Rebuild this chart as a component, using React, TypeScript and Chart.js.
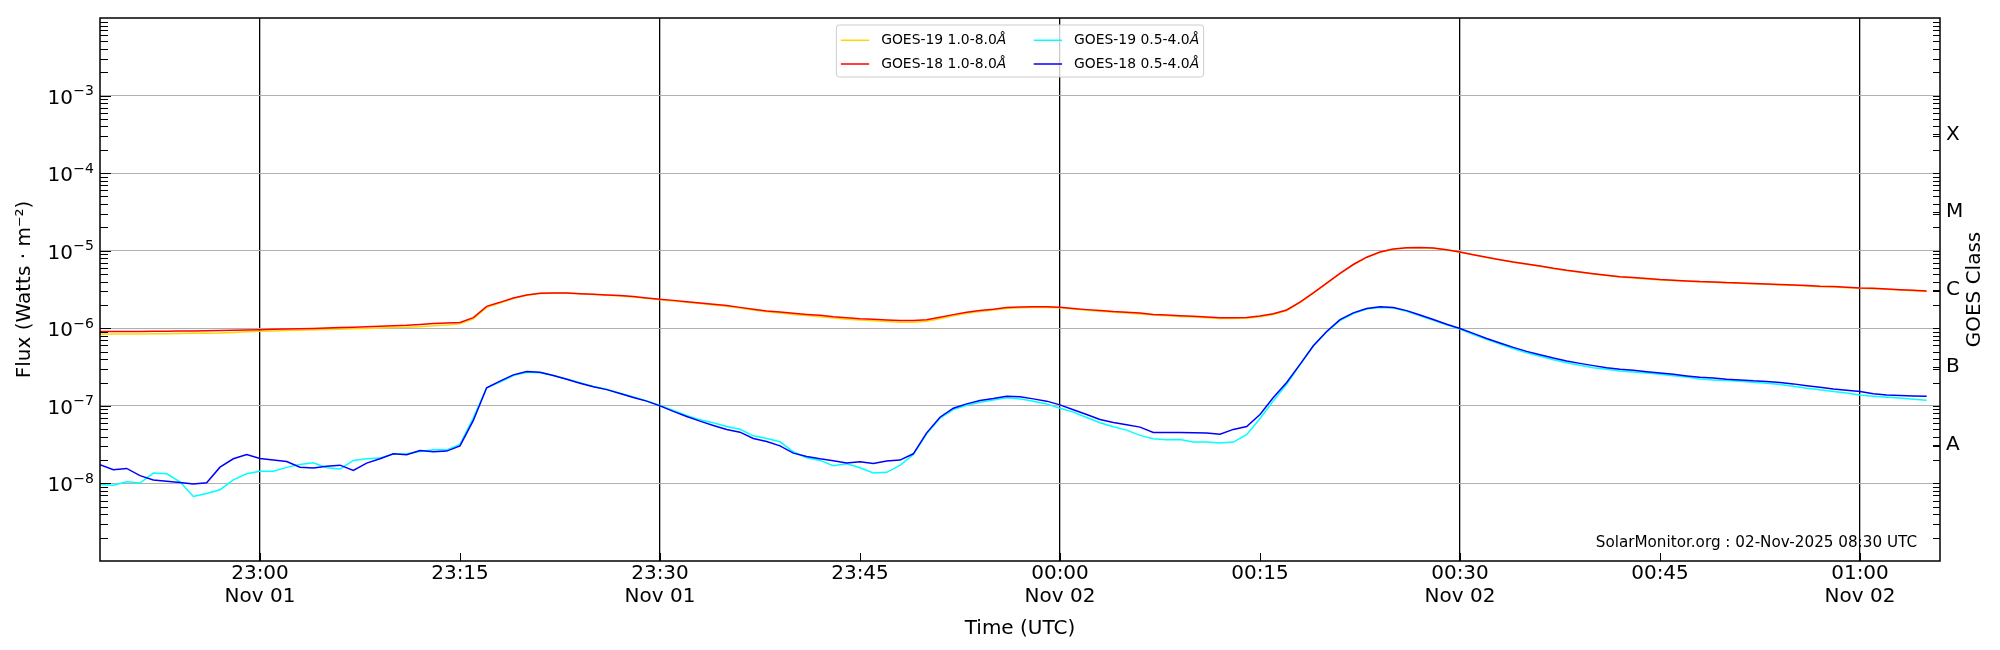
import React, { useEffect, useRef } from 'react';
import { Chart, registerables } from 'chart.js';

Chart.register(...registerables);

// ---- data (1-minute cadence, first sample at 22:48 UTC, Nov 01) ----
const FIRST_SAMPLE = '22:48';
const X_MIN = 0; // minutes since 22:48
const X_MAX = 138; // 01:06

const tickMinutes = [12, 27, 42, 57, 72, 87, 102, 117, 132];
const tickLabels: string[][] = [
  ['23:00', 'Nov 01'],
  ['23:15'],
  ['23:30', 'Nov 01'],
  ['23:45'],
  ['00:00', 'Nov 02'],
  ['00:15'],
  ['00:30', 'Nov 02'],
  ['00:45'],
  ['01:00', 'Nov 02'],
];

const fluxDecades = [-8, -7, -6, -5, -4, -3];
const goesClasses = ['A', 'B', 'C', 'M', 'X'];
const goesClassExponents = [-7.5, -6.5, -5.5, -4.5, -3.5];

const seriesLabels = ['GOES-19 1.0-8.0Å', 'GOES-18 1.0-8.0Å', 'GOES-19 0.5-4.0Å', 'GOES-18 0.5-4.0Å'];
const seriesColors = ['#ffd700', '#ff0000', '#00ffff', '#0000ff'];

const goes19Long = [
  8.4e-7, 8.42e-7, 8.44e-7, 8.46e-7, 8.5e-7, 8.53e-7, 8.56e-7, 8.6e-7, 8.63e-7, 8.67e-7,
  8.8e-7, 9.0e-7, 9.15e-7, 9.25e-7, 9.35e-7, 9.45e-7, 9.55e-7, 9.65e-7, 9.75e-7, 9.85e-7,
  9.95e-7, 1.01e-6, 1.02e-6, 1.035e-6, 1.05e-6, 1.08e-6, 1.1e-6, 1.14e-6, 1.32e-6, 1.86e-6,
  2.12e-6, 2.42e-6, 2.66e-6, 2.8e-6, 2.84e-6, 2.84e-6, 2.78e-6, 2.72e-6, 2.67e-6, 2.61e-6,
  2.53e-6, 2.43e-6, 2.33e-6, 2.25e-6, 2.16e-6, 2.08e-6, 2.0e-6, 1.92e-6, 1.82e-6, 1.72e-6,
  1.63e-6, 1.57e-6, 1.51e-6, 1.46e-6, 1.41e-6, 1.36e-6, 1.31e-6, 1.28e-6, 1.25e-6, 1.22e-6,
  1.2e-6, 1.2e-6, 1.23e-6, 1.33e-6, 1.45e-6, 1.56e-6, 1.64e-6, 1.72e-6, 1.8e-6, 1.84e-6,
  1.86e-6, 1.86e-6, 1.84e-6, 1.77e-6, 1.71e-6, 1.66e-6, 1.61e-6, 1.57e-6, 1.53e-6, 1.48e-6,
  1.45e-6, 1.42e-6, 1.4e-6, 1.37e-6, 1.34e-6, 1.34e-6, 1.35e-6, 1.41e-6, 1.51e-6, 1.69e-6,
  2.15e-6, 2.84e-6, 3.79e-6, 5.05e-6, 6.6e-6, 8.2e-6, 9.55e-6, 1.045e-5, 1.085e-5, 1.095e-5,
  1.075e-5, 1.025e-5, 9.58e-6, 8.84e-6, 8.17e-6, 7.62e-6, 7.11e-6, 6.7e-6, 6.31e-6, 5.89e-6,
  5.55e-6, 5.28e-6, 5.02e-6, 4.78e-6, 4.59e-6, 4.46e-6, 4.33e-6, 4.2e-6, 4.12e-6, 4.04e-6,
  3.96e-6, 3.92e-6, 3.84e-6, 3.8e-6, 3.73e-6, 3.69e-6, 3.62e-6, 3.58e-6, 3.51e-6, 3.44e-6,
  3.41e-6, 3.34e-6, 3.27e-6, 3.24e-6, 3.18e-6, 3.11e-6, 3.05e-6, 2.99e-6,
];

const goes18Long = [
  9.06e-7, 9.07e-7, 9.09e-7, 9.11e-7, 9.14e-7, 9.17e-7, 9.2e-7, 9.24e-7, 9.28e-7, 9.33e-7,
  9.4e-7, 9.5e-7, 9.6e-7, 9.7e-7, 9.78e-7, 9.86e-7, 9.95e-7, 1.005e-6, 1.02e-6, 1.035e-6,
  1.05e-6, 1.065e-6, 1.08e-6, 1.095e-6, 1.12e-6, 1.15e-6, 1.17e-6, 1.19e-6, 1.37e-6, 1.92e-6,
  2.16e-6, 2.46e-6, 2.69e-6, 2.82e-6, 2.85e-6, 2.85e-6, 2.79e-6, 2.74e-6, 2.69e-6, 2.64e-6,
  2.56e-6, 2.46e-6, 2.36e-6, 2.29e-6, 2.2e-6, 2.12e-6, 2.04e-6, 1.96e-6, 1.86e-6, 1.76e-6,
  1.67e-6, 1.62e-6, 1.56e-6, 1.51e-6, 1.47e-6, 1.41e-6, 1.37e-6, 1.33e-6, 1.31e-6, 1.28e-6,
  1.26e-6, 1.26e-6, 1.29e-6, 1.39e-6, 1.5e-6, 1.61e-6, 1.69e-6, 1.76e-6, 1.85e-6, 1.88e-6,
  1.9e-6, 1.9e-6, 1.87e-6, 1.8e-6, 1.74e-6, 1.69e-6, 1.64e-6, 1.61e-6, 1.57e-6, 1.51e-6,
  1.48e-6, 1.45e-6, 1.43e-6, 1.4e-6, 1.37e-6, 1.37e-6, 1.38e-6, 1.44e-6, 1.54e-6, 1.72e-6,
  2.18e-6, 2.87e-6, 3.82e-6, 5.09e-6, 6.64e-6, 8.25e-6, 9.6e-6, 1.05e-5, 1.09e-5, 1.1e-5,
  1.08e-5, 1.03e-5, 9.62e-6, 8.88e-6, 8.21e-6, 7.66e-6, 7.15e-6, 6.74e-6, 6.35e-6, 5.93e-6,
  5.59e-6, 5.32e-6, 5.06e-6, 4.82e-6, 4.63e-6, 4.5e-6, 4.37e-6, 4.24e-6, 4.16e-6, 4.08e-6,
  4.0e-6, 3.96e-6, 3.88e-6, 3.84e-6, 3.77e-6, 3.73e-6, 3.66e-6, 3.62e-6, 3.55e-6, 3.48e-6,
  3.45e-6, 3.38e-6, 3.31e-6, 3.28e-6, 3.22e-6, 3.15e-6, 3.09e-6, 3.03e-6,
];

const goes19Short = [
  9.7e-9, 9.5e-9, 1.05e-8, 1.01e-8, 1.36e-8, 1.33e-8, 1.05e-8, 6.8e-9, 7.4e-9, 8.3e-9,
  1.11e-8, 1.33e-8, 1.44e-8, 1.44e-8, 1.61e-8, 1.76e-8, 1.85e-8, 1.59e-8, 1.53e-8, 1.98e-8,
  2.08e-8, 2.12e-8, 2.39e-8, 2.41e-8, 2.58e-8, 2.71e-8, 2.71e-8, 3.18e-8, 7.0e-8, 1.71e-7,
  2.03e-7, 2.46e-7, 2.71e-7, 2.68e-7, 2.46e-7, 2.22e-7, 1.98e-7, 1.78e-7, 1.64e-7, 1.46e-7,
  1.3e-7, 1.16e-7, 1.01e-7, 8.7e-8, 7.5e-8, 6.6e-8, 6.04e-8, 5.42e-8, 5.0e-8, 4.11e-8,
  3.8e-8, 3.44e-8, 2.56e-8, 2.14e-8, 1.98e-8, 1.69e-8, 1.79e-8, 1.59e-8, 1.36e-8, 1.39e-8,
  1.71e-8, 2.36e-8, 4.36e-8, 6.94e-8, 8.97e-8, 1.02e-7, 1.11e-7, 1.19e-7, 1.27e-7, 1.23e-7,
  1.15e-7, 1.06e-7, 9.3e-8, 8.3e-8, 7.08e-8, 6.05e-8, 5.37e-8, 4.87e-8, 4.16e-8, 3.77e-8,
  3.66e-8, 3.69e-8, 3.41e-8, 3.41e-8, 3.31e-8, 3.41e-8, 4.24e-8, 6.87e-8, 1.16e-7, 1.9e-7,
  3.4e-7, 5.9e-7, 9.0e-7, 1.26e-6, 1.55e-6, 1.77e-6, 1.85e-6, 1.82e-6, 1.66e-6, 1.45e-6,
  1.27e-6, 1.11e-6, 9.75e-7, 8.33e-7, 7.19e-7, 6.26e-7, 5.45e-7, 4.84e-7, 4.35e-7, 3.94e-7,
  3.6e-7, 3.33e-7, 3.11e-7, 2.96e-7, 2.82e-7, 2.73e-7, 2.65e-7, 2.55e-7, 2.45e-7, 2.36e-7,
  2.22e-7, 2.16e-7, 2.12e-7, 2.07e-7, 2.01e-7, 1.95e-7, 1.88e-7, 1.79e-7, 1.69e-7, 1.61e-7,
  1.53e-7, 1.46e-7, 1.38e-7, 1.33e-7, 1.29e-7, 1.26e-7, 1.22e-7, 1.18e-7,
];

const goes18Short = [
  1.74e-8, 1.5e-8, 1.56e-8, 1.26e-8, 1.11e-8, 1.07e-8, 1.03e-8, 9.8e-9, 1.02e-8, 1.62e-8,
  2.08e-8, 2.36e-8, 2.1e-8, 2.0e-8, 1.92e-8, 1.62e-8, 1.58e-8, 1.66e-8, 1.72e-8, 1.47e-8,
  1.83e-8, 2.08e-8, 2.41e-8, 2.34e-8, 2.66e-8, 2.56e-8, 2.61e-8, 3.05e-8, 6.48e-8, 1.71e-7,
  2.08e-7, 2.51e-7, 2.77e-7, 2.71e-7, 2.46e-7, 2.2e-7, 1.96e-7, 1.76e-7, 1.62e-7, 1.44e-7,
  1.28e-7, 1.15e-7, 1.0e-7, 8.5e-8, 7.3e-8, 6.35e-8, 5.58e-8, 4.95e-8, 4.58e-8, 3.8e-8,
  3.47e-8, 3.05e-8, 2.46e-8, 2.23e-8, 2.08e-8, 1.96e-8, 1.83e-8, 1.9e-8, 1.81e-8, 1.94e-8,
  2.0e-8, 2.41e-8, 4.49e-8, 7.14e-8, 9.33e-8, 1.06e-7, 1.17e-7, 1.24e-7, 1.33e-7, 1.31e-7,
  1.23e-7, 1.15e-7, 1.03e-7, 8.9e-8, 7.74e-8, 6.67e-8, 6.11e-8, 5.7e-8, 5.32e-8, 4.54e-8,
  4.54e-8, 4.54e-8, 4.5e-8, 4.46e-8, 4.32e-8, 4.97e-8, 5.42e-8, 7.74e-8, 1.28e-7, 2.0e-7,
  3.43e-7, 5.96e-7, 9.1e-7, 1.29e-6, 1.58e-6, 1.8e-6, 1.89e-6, 1.85e-6, 1.69e-6, 1.48e-6,
  1.3e-6, 1.13e-6, 9.95e-7, 8.59e-7, 7.4e-7, 6.45e-7, 5.67e-7, 5.04e-7, 4.57e-7, 4.14e-7,
  3.79e-7, 3.53e-7, 3.3e-7, 3.11e-7, 2.96e-7, 2.87e-7, 2.76e-7, 2.65e-7, 2.55e-7, 2.43e-7,
  2.33e-7, 2.29e-7, 2.2e-7, 2.16e-7, 2.1e-7, 2.06e-7, 2.0e-7, 1.92e-7, 1.82e-7, 1.74e-7,
  1.65e-7, 1.59e-7, 1.53e-7, 1.43e-7, 1.38e-7, 1.36e-7, 1.34e-7, 1.33e-7,
];

const watermark = 'SolarMonitor.org : 02-Nov-2025 08:30 UTC';

// ---- helpers ----
const FONT = 'DejaVu Sans';

const toPoints = (arr: number[]) => arr.map((v, i) => ({ x: X_MIN + i, y: v }));

const line = (ctx: CanvasRenderingContext2D, x1: number, y1: number, x2: number, y2: number) => {
  ctx.beginPath();
  ctx.moveTo(x1, y1);
  ctx.lineTo(x2, y2);
  ctx.stroke();
};

// y tick labels drawn as "10" + raised smaller exponent (matplotlib mathtext look)
const powerLabels = {
  id: 'powerLabels',
  afterDraw(chart: any) {
    const { ctx, chartArea: ca, scales } = chart;
    const y = scales.y;
    ctx.save();
    ctx.fillStyle = '#000';
    ctx.textBaseline = 'alphabetic';
    const rightEdge = ca.left - 6;
    y.ticks.forEach((t: any) => {
      const e = Math.round(Math.log10(t.value));
      const py = y.getPixelForValue(t.value);
      const expStr = (e < 0 ? '\u2212' : '') + String(Math.abs(e));
      ctx.font = `14px "${FONT}"`;
      const ew = ctx.measureText(expStr).width;
      ctx.textAlign = 'left';
      ctx.fillText(expStr, rightEdge - ew, py - 0.5);
      ctx.font = `20px "${FONT}"`;
      ctx.textAlign = 'right';
      ctx.fillText('10', rightEdge - ew - 0.5, py + 8);
    });
    ctx.restore();
  },
};

const frameAndTicks = {
  id: 'frameAndTicks',
  afterDatasetsDraw(chart: any) {
    const { ctx, chartArea: ca, scales } = chart;
    const y = scales.y;
    const x = scales.x;
    ctx.save();
    ctx.strokeStyle = '#000';
    ctx.lineWidth = 1;
    for (let e = -9; e <= -3; e++) {
      for (let k = 1; k <= 9; k++) {
        const v = k * Math.pow(10, e);
        const py = Math.round(y.getPixelForValue(v)) + 0.5;
        if (py < ca.top || py > ca.bottom) continue;
        line(ctx, ca.left, py, ca.left + (k === 1 ? 11 : 8), py);
        line(ctx, ca.right - 7, py, ca.right, py);
      }
    }
    goesClassExponents.forEach((e) => {
      const py = Math.round(y.getPixelForValue(Math.pow(10, e))) + 0.5;
      line(ctx, ca.right - 7, py, ca.right, py);
    });
    tickMinutes.forEach((m) => {
      const px = Math.round(x.getPixelForValue(m)) + 0.5;
      line(ctx, px, ca.bottom, px, ca.bottom - 8);
    });
    ctx.lineWidth = 1.5;
    ctx.strokeRect(ca.left, ca.top, ca.right - ca.left, ca.bottom - ca.top);
    ctx.restore();
  },
};

const extras = {
  id: 'extras',
  afterDraw(chart: any) {
    const { ctx, chartArea: ca } = chart;
    const ds = chart.data.datasets;
    ctx.save();
    // right axis title (reads bottom-to-top)
    ctx.fillStyle = '#000';
    ctx.font = `20px "${FONT}"`;
    ctx.textAlign = 'center';
    ctx.textBaseline = 'middle';
    ctx.translate(1975, (ca.top + ca.bottom) / 2);
    ctx.rotate(-Math.PI / 2);
    ctx.fillText('GOES Class', 0, 0);
    ctx.restore();

    // watermark
    ctx.save();
    ctx.fillStyle = '#000';
    ctx.font = `15.2px "${FONT}"`;
    ctx.textAlign = 'right';
    ctx.textBaseline = 'middle';
    ctx.fillText(watermark, ca.right - 23, ca.bottom - 18);
    ctx.restore();

    // legend (2 columns, column-major like matplotlib)
    ctx.save();
    const fs = 13.9;
    const normal = `${fs}px "${FONT}"`;
    const italic = `italic ${fs}px "${FONT}"`;
    const widthOf = (label: string) => {
      ctx.font = normal;
      const w1 = ctx.measureText(label.slice(0, -1)).width;
      ctx.font = italic;
      return w1 + ctx.measureText(label.slice(-1)).width;
    };
    const cols = [[0, 1], [2, 3]];
    const handle = 28.3, gap = 12, colGap = 27.5, padX = 4.5, h = 52;
    const colW = cols.map((c) => Math.max(...c.map((i) => widthOf(ds[i].label))));
    const W = padX * 2 + 2 * (handle + gap) + colW[0] + colGap + colW[1];
    const x0 = (ca.left + ca.right) / 2 - W / 2;
    const y0 = ca.top + 7;
    ctx.beginPath();
    if ((ctx as any).roundRect) (ctx as any).roundRect(x0, y0, W, h, 3);
    else ctx.rect(x0, y0, W, h);
    ctx.fillStyle = 'rgba(255,255,255,0.8)';
    ctx.fill();
    ctx.strokeStyle = '#cccccc';
    ctx.lineWidth = 1;
    ctx.stroke();
    let cx = x0 + padX;
    cols.forEach((c, ci) => {
      c.forEach((i, ri) => {
        const yy = y0 + 15.3 + ri * 23.7;
        ctx.strokeStyle = ds[i].borderColor;
        ctx.lineWidth = 1.5;
        line(ctx, cx, yy, cx + handle, yy);
        ctx.fillStyle = '#000';
        ctx.textBaseline = 'middle';
        ctx.textAlign = 'left';
        const label: string = ds[i].label;
        ctx.font = normal;
        const base = label.slice(0, -1);
        ctx.fillText(base, cx + handle + gap, yy);
        const bw = ctx.measureText(base).width;
        ctx.font = italic;
        ctx.fillText(label.slice(-1), cx + handle + gap + bw, yy);
      });
      cx += handle + gap + colW[ci] + colGap;
    });
    ctx.restore();
  },
};

export default function App() {
  const ref = useRef<HTMLCanvasElement>(null);

  useEffect(() => {
    document.body.style.margin = '0';
    if (!ref.current) return;
    const series = [goes19Long, goes18Long, goes19Short, goes18Short];
    const drawOrder = [4, 3, 2, 1];
    const chart = new Chart(ref.current, {
      type: 'line',
      data: {
        datasets: series.map((s, i) => ({
          label: seriesLabels[i],
          data: toPoints(s),
          borderColor: seriesColors[i],
          backgroundColor: seriesColors[i],
          borderWidth: 1.5,
          pointRadius: 0,
          tension: 0,
          fill: false,
          order: drawOrder[i],
          yAxisID: 'y',
        })),
      },
      options: {
        responsive: false,
        animation: false,
        events: [],
        layout: { padding: { top: 15, left: 0, right: 0, bottom: 0 } },
        plugins: {
          legend: { display: false },
          tooltip: { enabled: false },
          title: { display: false },
        },
        scales: {
          x: {
            type: 'linear',
            position: 'bottom',
            min: X_MIN,
            max: X_MAX,
            afterBuildTicks: (s: any) => {
              s.ticks = tickMinutes.map((v) => ({ value: v }));
            },
            afterFit: (s: any) => {
              s.height = 89;
            },
            ticks: {
              autoSkip: false,
              maxRotation: 0,
              minRotation: 0,
              padding: 2,
              color: '#000',
              font: { family: FONT, size: 20, lineHeight: 1.12 },
              callback: (_v: any, i: number) => tickLabels[i],
            },
            grid: {
              drawTicks: false,
              lineWidth: 1.3,
              color: (c: any) => (tickLabels[c.index] && tickLabels[c.index].length === 2 ? '#000' : 'rgba(0,0,0,0)'),
            },
            border: { display: false },
            title: {
              display: true,
              text: 'Time (UTC)',
              color: '#000',
              font: { family: FONT, size: 20 },
              padding: { top: 0, bottom: 9 },
            },
          },
          y: {
            type: 'logarithmic',
            position: 'left',
            min: 1e-9,
            max: 1e-2,
            afterBuildTicks: (s: any) => {
              s.ticks = fluxDecades.map((e) => ({ value: Math.pow(10, e) }));
            },
            afterFit: (s: any) => {
              s.width = 100;
            },
            ticks: {
              display: false,
              autoSkip: false,
            },
            grid: { drawTicks: false, color: '#b0b0b0', lineWidth: 1 },
            border: { display: false },
            title: {
              display: true,
              text: 'Flux (Watts \u00B7 m\u207B\u00B2)',
              color: '#000',
              font: { family: FONT, size: 20 },
              padding: { top: 13, bottom: 0 },
            },
          },
          y2: {
            type: 'logarithmic',
            position: 'right',
            min: 1e-9,
            max: 1e-2,
            afterBuildTicks: (s: any) => {
              s.ticks = goesClassExponents.map((e) => ({ value: Math.pow(10, e) }));
            },
            afterFit: (s: any) => {
              s.width = 60;
            },
            ticks: {
              autoSkip: false,
              padding: 6,
              color: '#000',
              font: { family: FONT, size: 20 },
              callback: (_v: any, i: number) => goesClasses[i],
            },
            grid: { display: false, drawTicks: false },
            border: { display: false },
          },
        },
      },
      plugins: [frameAndTicks, powerLabels, extras],
    } as any);
    return () => chart.destroy();
  }, []);

  return (
    <div style={{ width: 2000, height: 650 }} data-first-sample={FIRST_SAMPLE}>
      <canvas ref={ref} width={2000} height={650} style={{ display: 'block', width: 2000, height: 650 }} />
    </div>
  );
}
